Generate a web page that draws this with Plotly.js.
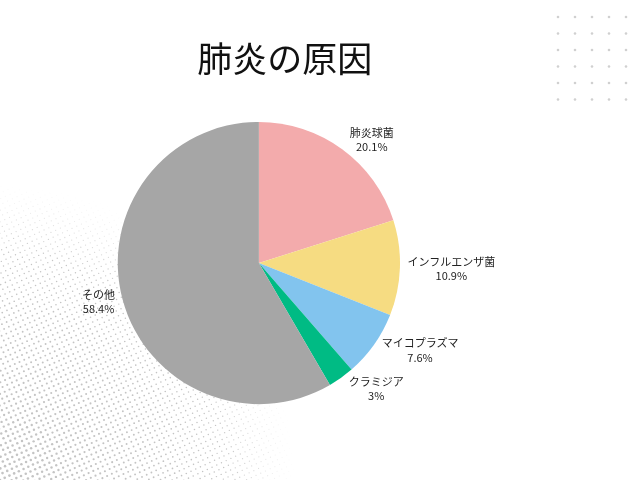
<!DOCTYPE html>
<html>
<head>
<meta charset="utf-8">
<script src="https://cdn.plot.ly/plotly-3.0.1.min.js"></script>
<style>
  body { margin: 0; background: #fff; }
  #wrap { position: relative; width: 640px; height: 480px; }
  #bg, #chart { position: absolute; left: 0; top: 0; }
</style>
</head>
<body>
<div id="wrap">
  <canvas id="bg" width="640" height="480"></canvas>
  <div id="chart" style="width:640px;height:480px;"></div>
</div>
<script>
const causes = ['肺炎球菌', 'インフルエンザ菌', 'マイコプラズマ', 'クラミジア', 'その他'];
const shares = [20.1, 10.9, 7.6, 3.0, 58.4];
const sliceColors = ['#f3abac', '#f6dc82', '#82c4ee', '#00bb84', '#a6a6a6'];

// background decoration: dot grid top right, halftone bottom left
drawBackground = () => {
  const ctx = document.getElementById('bg').getContext('2d');
  ctx.fillStyle = '#d0d0d0';
  for (let i = 0; i < 5; i++) {
    for (let j = 0; j < 6; j++) {
      ctx.beginPath();
      ctx.arc(558 + i * 17, 17 + j * 16.5, 1.3, 0, Math.PI * 2);
      ctx.fill();
    }
  }
  const s = 5.2;
  const a = 25 * Math.PI / 180;
  for (let i = -80; i < 80; i++) {
    for (let j = -80; j < 80; j++) {
      const x = i * s * Math.cos(a) - j * s * Math.sin(a);
      const y = 480 - (i * s * Math.sin(a) + j * s * Math.cos(a));
      if (x < -3 || y > 483) continue;
      const d = Math.hypot(x, 480 - y);
      if (d > 295) continue;
      const r = 0.5 + 0.85 * (1 - d / 295);
      const alpha = Math.min(1, (295 - d) / 70);
      ctx.fillStyle = `rgba(196,196,196,${alpha})`;
      ctx.beginPath();
      ctx.arc(x, y, r, 0, Math.PI * 2);
      ctx.fill();
    }
  }
};

drawChart = () => {
  const trace = {
    type: 'pie',
    labels: causes,
    values: shares,
    sort: false,
    direction: 'clockwise',
    rotation: 0,
    marker: { colors: sliceColors, line: { width: 0 } },
    textinfo: 'label+percent',
    textposition: 'outside',
    texttemplate: '%{label}<br>%{percent}',
    textfont: { family: 'Noto Sans CJK JP', size: 11, color: '#222' },
    showlegend: false,
    hoverinfo: 'none',
    automargin: false,
    domain: { x: [0.184, 0.625], y: [0.158, 0.746] }
  };
  const layout = {
    width: 640,
    height: 480,
    margin: { l: 0, r: 0, t: 0, b: 0 },
    paper_bgcolor: 'rgba(0,0,0,0)',
    plot_bgcolor: 'rgba(0,0,0,0)',
    title: {
      text: '肺炎の原因',
      font: { family: 'Noto Sans CJK JP', size: 35, color: '#111' },
      x: 0.445,
      xanchor: 'center',
      y: 0.875,
      yanchor: 'middle'
    }
  };
  Plotly.newPlot('chart', [trace], layout, { displayModeBar: false, staticPlot: true });
};

drawBackground();
drawChart();
</script>
</body>
</html>
